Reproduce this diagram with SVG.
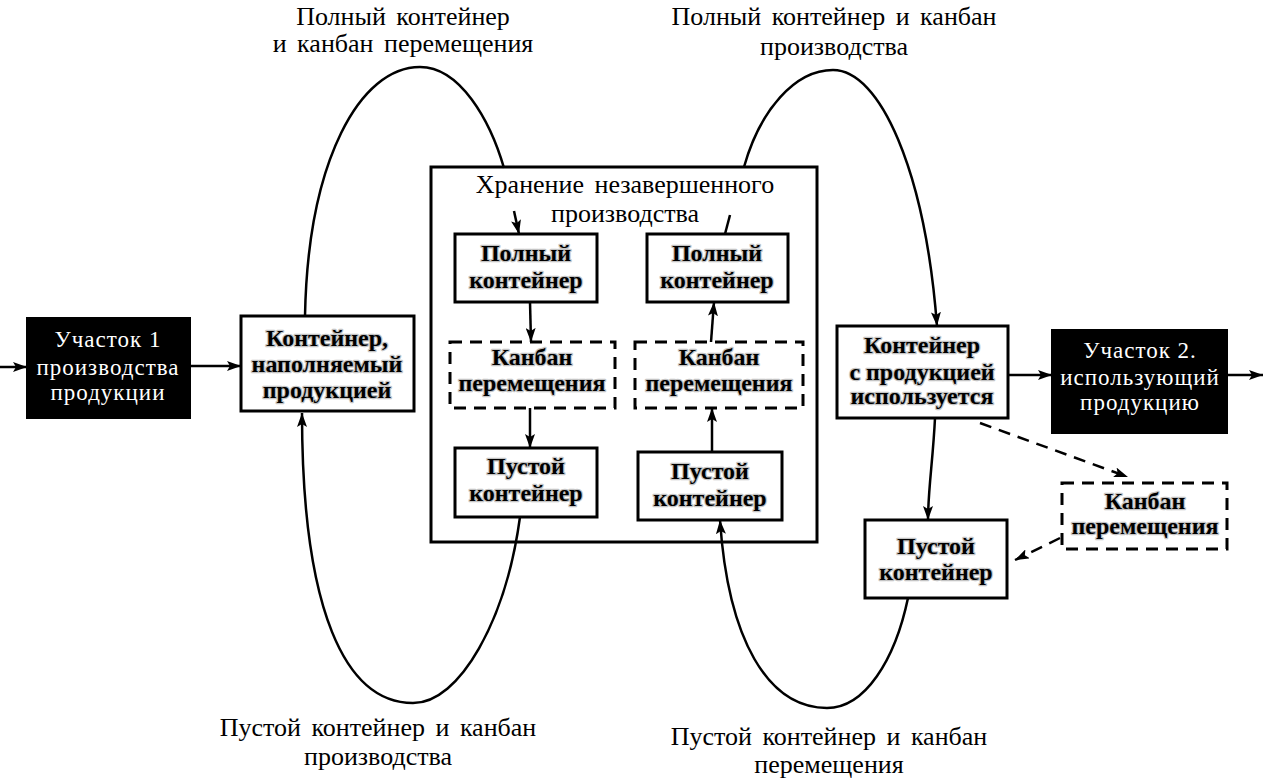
<svg xmlns="http://www.w3.org/2000/svg" width="1264" height="781" viewBox="0 0 1264 781">
<defs>
<marker id="arr" viewBox="0 0 14 10" refX="14" refY="5" markerWidth="14" markerHeight="10" markerUnits="userSpaceOnUse" orient="auto">
<path d="M0,0 L14,5 L0,10 L3,5 z" fill="#000"/>
</marker>
<style>
.lbl{font-family:"Liberation Serif","Times New Roman",serif;font-size:26px;word-spacing:4px;fill:#000;text-anchor:middle}
.nt{font-family:"Liberation Serif","Times New Roman",serif;font-size:24px;font-weight:bold;fill:#000;text-anchor:middle;stroke:#c4c4c4;stroke-width:2.5;paint-order:stroke;stroke-linejoin:round}
.bt{font-family:"Liberation Serif","Times New Roman",serif;font-size:23px;fill:#fff;text-anchor:middle;letter-spacing:1px}
.box{fill:#fff;stroke:#000;stroke-width:3}
.dbox{fill:#fff;stroke:#000;stroke-width:3;stroke-dasharray:12 8}
.blk{fill:#000;stroke:#000;stroke-width:2}
.ln{fill:none;stroke:#000;stroke-width:2.5}
.dl{fill:none;stroke:#000;stroke-width:2.5;stroke-dasharray:12 8}
</style>
</defs>
<rect width="1264" height="781" fill="#fff"/>

<g id="labels">
<text class="lbl" x="403" y="25">Полный контейнер</text>
<text class="lbl" x="403" y="52">и канбан перемещения</text>
<text class="lbl" x="834" y="25">Полный контейнер и канбан</text>
<text class="lbl" x="834" y="55">производства</text>
<text class="lbl" x="378" y="736">Пустой контейнер и канбан</text>
<text class="lbl" x="378" y="765">производства</text>
<text class="lbl" x="829" y="745">Пустой контейнер и канбан</text>
<text class="lbl" x="829" y="773">перемещения</text>
</g>

<g id="wip">
<rect class="box" x="431" y="167" width="386" height="375"/>
<text class="lbl" x="625" y="193">Хранение незавершенного</text>
<text class="lbl" x="625" y="222">производства</text>
</g>

<g id="section1">
<rect class="blk" x="27" y="318" width="163" height="100"/>
<text class="bt" x="108" y="347">Участок 1</text>
<text class="bt" x="108" y="375">производства</text>
<text class="bt" x="108" y="400">продукции</text>
</g>

<g id="filling">
<rect class="box" x="241" y="316" width="173" height="95"/>
<text class="nt" x="327" y="346">Контейнер,</text>
<text class="nt" x="327" y="372">наполняемый</text>
<text class="nt" x="327" y="398">продукцией</text>
</g>

<g id="full-left">
<rect class="box" x="455" y="234" width="142" height="68"/>
<text class="nt" x="526" y="261">Полный</text>
<text class="nt" x="526" y="288">контейнер</text>
</g>
<g id="full-right">
<rect class="box" x="647" y="234" width="141" height="68"/>
<text class="nt" x="717" y="261">Полный</text>
<text class="nt" x="717" y="288">контейнер</text>
</g>
<g id="kanban-left">
<rect class="dbox" x="450" y="342" width="165" height="66"/>
<text class="nt" x="532" y="365">Канбан</text>
<text class="nt" x="532" y="391">перемещения</text>
</g>
<g id="kanban-right">
<rect class="dbox" x="635" y="342" width="168" height="66"/>
<text class="nt" x="719" y="365">Канбан</text>
<text class="nt" x="719" y="391">перемещения</text>
</g>
<g id="empty-left">
<rect class="box" x="455" y="448" width="142" height="69"/>
<text class="nt" x="526" y="474">Пустой</text>
<text class="nt" x="526" y="501">контейнер</text>
</g>
<g id="empty-right">
<rect class="box" x="638" y="452" width="144" height="68"/>
<text class="nt" x="710" y="479">Пустой</text>
<text class="nt" x="710" y="506">контейнер</text>
</g>

<g id="usage">
<rect class="box" x="837" y="326" width="171" height="92"/>
<text class="nt" x="922" y="353">Контейнер</text>
<text class="nt" x="922" y="380">с продукцией</text>
<text class="nt" x="922" y="404">используется</text>
</g>

<g id="section2">
<rect class="blk" x="1052" y="330" width="175" height="103"/>
<text class="bt" x="1140" y="358">Участок 2.</text>
<text class="bt" x="1140" y="385">использующий</text>
<text class="bt" x="1140" y="410">продукцию</text>
</g>

<g id="kanban-out">
<rect class="dbox" x="1062" y="483" width="165" height="66"/>
<text class="nt" x="1145" y="509">Канбан</text>
<text class="nt" x="1145" y="534">перемещения</text>
</g>

<g id="empty-out">
<rect class="box" x="865" y="520" width="142" height="78"/>
<text class="nt" x="936" y="554">Пустой</text>
<text class="nt" x="936" y="580">контейнер</text>
</g>

<g id="connectors">
<line class="ln" x1="0" y1="367" x2="27" y2="367" marker-end="url(#arr)"/>
<line class="ln" x1="190" y1="366" x2="241" y2="366" marker-end="url(#arr)"/>
<line class="ln" x1="1008" y1="375" x2="1052" y2="375" marker-end="url(#arr)"/>
<line class="ln" x1="1227" y1="375" x2="1263" y2="375" marker-end="url(#arr)"/>

<path class="ln" d="M305,316 C308,160 360,67 420,67 C460,67 490,120 504,168"/>
<line class="ln" x1="514" y1="211" x2="519" y2="234" marker-end="url(#arr)"/>

<path class="ln" d="M520,517 C506,620 460,703 413,703 C345,703 302,610 302,413" marker-end="url(#arr)"/>

<path class="ln" d="M744,167 C760,110 795,70 833,70 C880,70 925,170 937,326" marker-end="url(#arr)"/>
<line class="ln" x1="730" y1="215" x2="725" y2="234"/>

<path class="ln" d="M908,598 C895,660 865,708 827,708 C768,708 728,640 720,520" marker-end="url(#arr)"/>

<line class="ln" x1="530" y1="302" x2="531" y2="342" marker-end="url(#arr)"/>
<line class="ln" x1="530" y1="408" x2="530" y2="448" marker-end="url(#arr)"/>
<line class="ln" x1="712" y1="452" x2="712" y2="408" marker-end="url(#arr)"/>
<line class="ln" x1="711" y1="342" x2="714" y2="302" marker-end="url(#arr)"/>

<path class="ln" d="M935,418 C933,460 928,490 928,520" marker-end="url(#arr)"/>
<line class="dl" x1="980" y1="423" x2="1128" y2="477" marker-end="url(#arr)"/>
<line class="dl" x1="1060" y1="538" x2="1015" y2="560" marker-end="url(#arr)"/>
</g>
</svg>
